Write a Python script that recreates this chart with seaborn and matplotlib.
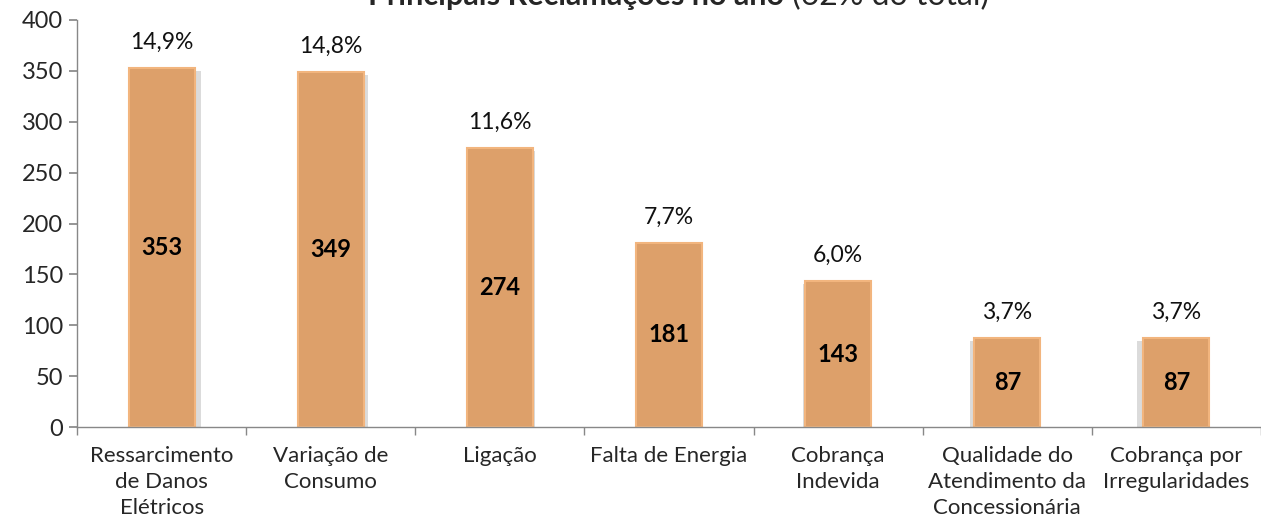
import matplotlib
matplotlib.use("Agg")
import matplotlib.pyplot as plt
import matplotlib.patheffects as pe
import seaborn as sns

categorias = ["Ressarcimento\nde Danos\nElétricos", "Variação de\nConsumo", "Ligação",
              "Falta de Energia", "Cobrança\nIndevida", "Qualidade do\nAtendimento da\nConcessionária",
              "Cobrança por\nIrregularidades"]
valores = [353, 349, 274, 181, 143, 87, 87]
percentuais = ["14,9%", "14,8%", "11,6%", "7,7%", "6,0%", "3,7%", "3,7%"]

sns.set_theme(style="white")
plt.rcParams['font.family'] = ['Lato', 'DejaVu Sans']

fig = plt.figure(figsize=(12.61, 5.25), dpi=100)
ax = fig.add_axes([77 / 1261, 1 - 427 / 525, 1 - 77 / 1261, (427 - 20) / 525])

sns.barplot(x=list(range(len(valores))), y=valores, color="#DDA06A", width=0.39,
            saturation=1, ax=ax, edgecolor="#F2B57E", linewidth=1.5)
# sombra: à direita nas primeiras barras, à esquerda nas últimas
n = len(valores)
for i, bar in enumerate(ax.patches):
    dx = 5 - 10 * i / (n - 1)
    bar.set_path_effects([pe.SimplePatchShadow(offset=(dx, -2), shadow_rgbFace="#999999", alpha=0.35),
                          pe.Normal()])

for i, (v, p) in enumerate(zip(valores, percentuais)):
    ax.text(i, v + 15, p, ha="center", va="bottom", fontsize=16.5, color="#111111")
    ax.text(i, v / 2, str(v), ha="center", va="center", fontsize=17, fontweight="bold", color="black")

ax.set_xlim(-0.5, n - 0.5)
ax.set_ylim(0, 400)
ax.set_yticks(range(0, 401, 50))
ax.set_yticklabels([str(t) for t in range(0, 401, 50)], fontsize=17)
ax.set_xticks(range(n))
ax.set_xticklabels(categorias, fontsize=16, linespacing=1.35)
ax.set_xticks([i - 0.5 for i in range(n + 1)], minor=True)
ax.tick_params(axis="x", which="major", length=0, pad=14)
ax.tick_params(axis="x", which="minor", length=6, color="#888888", direction="out", bottom=True)
ax.tick_params(axis="y", length=6, color="#888888", direction="out", left=True, pad=4)
for s in ["top", "right"]:
    ax.spines[s].set_visible(False)
for s in ["left", "bottom"]:
    ax.spines[s].set_color("#888888")
    ax.spines[s].set_linewidth(1)

fig.text(784 / 1261, 1 - 5 / 525, "Principais Reclamações no ano", ha="right", va="baseline",
         fontsize=22, fontweight="bold")
fig.text(792 / 1261, 1 - 5 / 525, "(62% do total)", ha="left", va="baseline", fontsize=23)

fig.savefig("out.png", dpi=100)
